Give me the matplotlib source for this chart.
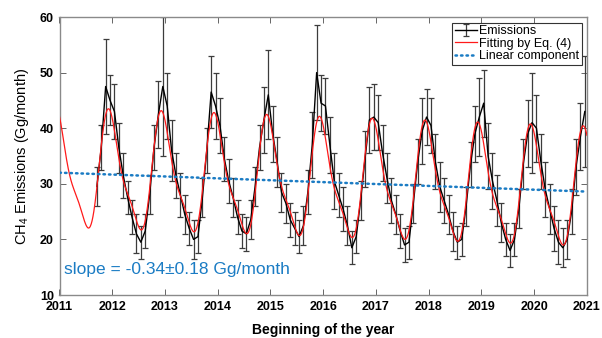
import numpy as np
import matplotlib
matplotlib.use("Agg")
import matplotlib.pyplot as plt

plt.rcParams['font.family'] = ['Liberation Sans', 'DejaVu Sans']
plt.rcParams['mathtext.fontset'] = 'custom'
plt.rcParams['mathtext.rm'] = 'Liberation Sans'
plt.rcParams['mathtext.it'] = 'Liberation Sans:italic'
plt.rcParams['mathtext.bf'] = 'Liberation Sans:bold'

# Monthly CH4 emissions (Gg/month) and 1-sigma errors, Sep 2011 - Dec 2020
first_year, first_month = 2011, 9
emissions = [
    29.5, 36.5, 47.5, 45.0,                                                  # 2011
    43.0, 36.5, 31.5, 27.5, 24.0, 21.0, 19.5, 21.5, 28.0, 36.5, 42.5, 47.5,  # 2012
    44.0, 36.0, 31.5, 28.0, 24.5, 22.0, 20.0, 20.5, 27.5, 36.0, 46.5, 44.0,  # 2013
    40.5, 34.5, 30.5, 27.5, 24.0, 21.5, 21.0, 23.5, 29.5, 36.5, 41.5, 46.0,  # 2014
    39.0, 34.0, 28.5, 26.5, 23.5, 22.0, 20.5, 22.5, 28.5, 37.0, 50.0, 44.5,  # 2015
    44.0, 37.0, 30.5, 28.0, 25.5, 22.5, 18.5, 20.5, 27.0, 34.5, 41.5, 42.0,  # 2016
    41.0, 35.5, 31.0, 27.0, 24.5, 21.5, 19.0, 19.5, 26.5, 34.0, 39.5, 42.0,  # 2017
    40.5, 34.0, 29.5, 27.0, 24.5, 21.5, 19.5, 20.0, 26.0, 33.5, 39.0, 42.0,  # 2018
    44.5, 35.0, 30.5, 27.0, 23.0, 20.0, 18.0, 20.0, 25.5, 33.5, 39.0, 41.0,  # 2019
    40.0, 34.0, 29.0, 25.5, 22.0, 19.5, 18.5, 20.0, 25.0, 33.0, 38.5, 43.0,  # 2020
]
errors = [
    3.5, 4.0, 8.5, 4.5,
    5.0, 4.5, 4.0, 3.0, 3.0, 3.5, 3.0, 3.0, 3.5, 4.0, 6.0, 12.5,
    6.0, 5.5, 4.0, 4.0, 3.5, 3.0, 3.5, 3.0, 3.5, 4.0, 6.5, 6.0,
    5.0, 4.0, 4.0, 3.5, 3.0, 3.0, 3.0, 3.5, 3.5, 4.0, 6.0, 8.0,
    5.0, 4.5, 3.5, 3.5, 3.0, 3.0, 3.0, 3.5, 4.0, 6.0, 8.5, 5.0,
    5.0, 5.0, 5.0, 4.0, 4.0, 3.5, 3.0, 3.0, 3.5, 5.0, 6.0, 6.0,
    5.0, 5.0, 4.5, 4.0, 3.5, 3.0, 3.0, 3.0, 3.5, 4.0, 6.0, 5.0,
    5.0, 5.0, 4.5, 4.0, 3.5, 3.5, 3.0, 3.0, 3.5, 4.0, 5.0, 7.0,
    6.0, 6.0, 5.0, 4.5, 3.5, 3.0, 3.0, 3.0, 3.5, 4.5, 6.0, 9.0,
    6.0, 5.0, 5.0, 4.5, 4.0, 4.0, 3.5, 3.5, 4.0, 5.0, 6.0, 10.0,
]

# Eq. (4): linear trend plus annual and semi-annual harmonics
trend_intercept = 32.0   # Gg/month at the start of 2011
trend_slope = -0.34      # change per year
annual_cos, annual_sin = 9.65, -1.85
semiannual_cos, semiannual_sin = 0.45, -2.6

year_ticks = list(range(2011, 2022))
value_ticks = [10, 20, 30, 40, 50, 60]
slope_label = "slope = -0.34\u00b10.18 Gg/month"

blue = '#1b7cc4'

t_obs = first_year + (first_month - 1 + np.arange(len(emissions)) + 0.5) / 12.0

t_fit = np.linspace(2011, 2021, 1200)
linear = trend_intercept + trend_slope * (t_fit - 2011)
w = 2 * np.pi * t_fit
fit = (linear + annual_cos * np.cos(w) + annual_sin * np.sin(w)
       + semiannual_cos * np.cos(2 * w) + semiannual_sin * np.sin(2 * w))

fig = plt.figure(figsize=(6.02, 3.38), dpi=100)
ax = fig.add_axes([59.5 / 602, 43 / 338, 527.5 / 602, 278 / 338])

h_obs = ax.errorbar(t_obs, emissions, yerr=errors, color='black', lw=1.0,
                    ecolor='#3c3c3c', elinewidth=0.9, capsize=2.0, capthick=0.9,
                    label='Emissions', zorder=2)
h_fit, = ax.plot(t_fit, fit, color='#ff1a1a', lw=0.9,
                 label='Fitting by Eq. (4)', zorder=3)
h_lin, = ax.plot(t_fit, linear, color=blue, lw=1.8, linestyle=(0, (0.6, 1.6)),
                 dash_capstyle='round', label='Linear component', zorder=4)

ax.set_xlim(2011, 2021)
ax.set_ylim(10, 60)
ax.set_xticks(year_ticks)
ax.set_xticklabels([str(y) for y in year_ticks])
ax.set_yticks(value_ticks)
ax.tick_params(direction='in', top=True, right=True, length=4, width=0.7,
               color='#666666', labelsize=9, pad=4)
for lab in ax.get_xticklabels() + ax.get_yticklabels():
    lab.set_fontweight('bold')
for sp in ax.spines.values():
    sp.set_color('#8a8a8a')
    sp.set_linewidth(1.0)

ax.set_xlabel('Beginning of the year', fontsize=10, fontweight='bold', va='center')
ax.xaxis.set_label_coords(0.5, -0.126)
ax.set_ylabel(r'CH$_\mathrm{4}$ Emissions (Gg/month)', fontsize=10.5, va='center')
ax.yaxis.set_label_coords(-0.071, 0.5)

ax.text(0.0085, 0.09, slope_label, transform=ax.transAxes, color=blue,
        fontsize=12.5, ha='left', va='center')

leg = ax.legend([h_obs, h_fit, h_lin],
                ['Emissions', 'Fitting by Eq. (4)', 'Linear component'],
                loc='upper right', bbox_to_anchor=(0.9905, 0.9795),
                borderaxespad=0, fontsize=9, frameon=True, fancybox=False,
                framealpha=1, edgecolor='#333333', borderpad=0.2,
                labelspacing=0.05, handlelength=1.8, handletextpad=0.15)
leg.get_frame().set_linewidth(0.8)

fig.savefig('out.png', dpi=100)
